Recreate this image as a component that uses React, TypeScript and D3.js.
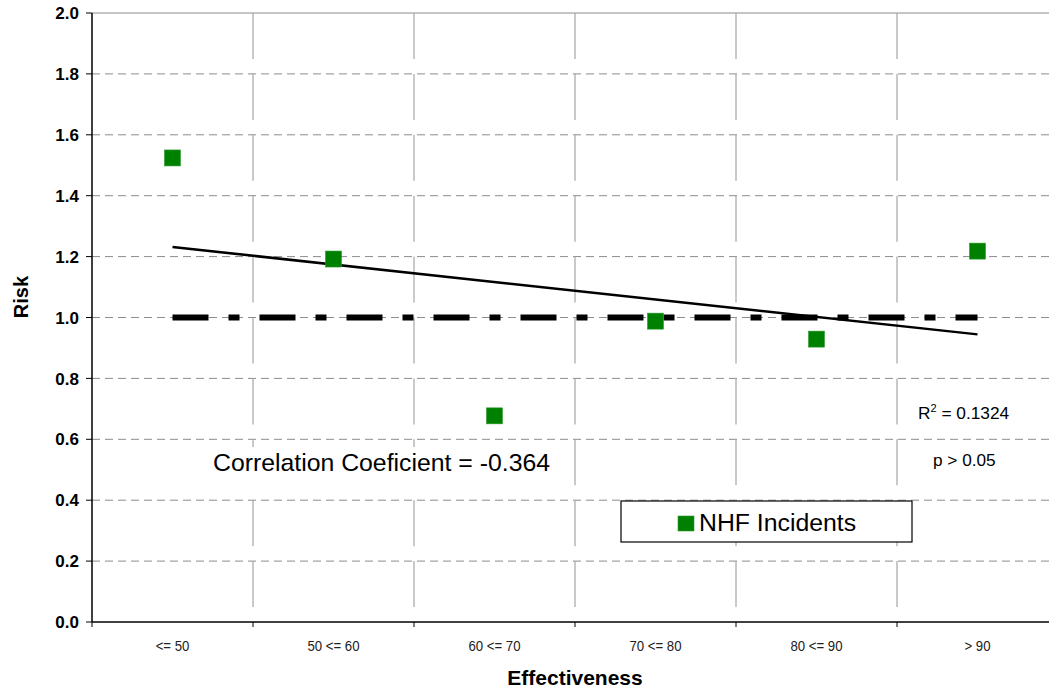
import React from "react";
import * as d3 from "d3";

const categories = ["<= 50", "50 <= 60", "60 <= 70", "70 <= 80", "80 <= 90", "> 90"];
const riskValues = [1.524, 1.192, 0.677, 0.988, 0.929, 1.218];
const yTicks = [0, 0.2, 0.4, 0.6, 0.8, 1.0, 1.2, 1.4, 1.6, 1.8, 2.0];
const referenceLevel = 1.0;
const seriesName = "NHF Incidents";
const correlationText = "Correlation Coeficient = -0.364";
const r2Value = "0.1324";
const pText = "p > 0.05";

const W = 1049;
const H = 689;
const M = { left: 92, right: 1058, top: 13, bottom: 622 };

export default function App() {
  const x = d3.scaleBand<string>().domain(categories).range([M.left, M.right]).paddingInner(0).paddingOuter(0);
  const y = d3.scaleLinear().domain([0, 2]).range([M.bottom, M.top]);
  const cx = (c: string) => (x(c) as number) + x.bandwidth() / 2;

  // linear regression on category index
  const idx = categories.map((_, i) => i + 1);
  const mx = d3.mean(idx) as number;
  const my = d3.mean(riskValues) as number;
  const sxy = d3.sum(idx.map((v, i) => (v - mx) * (riskValues[i] - my)));
  const sxx = d3.sum(idx.map((v) => (v - mx) ** 2));
  const slope = sxy / sxx;
  const icpt = my - slope * mx;
  const trend = d3.line<number>()
    .x((_, i) => cx(categories[i === 0 ? 0 : categories.length - 1]))
    .y((v) => y(v));
  const trendPts = [icpt + slope * 1, icpt + slope * categories.length];

  const first = cx(categories[0]);
  const last = cx(categories[categories.length - 1]);
  const boundaries = categories.map((c) => x(c) as number).concat([M.right]);
  const sq = 16;

  return (
    <svg width={W} height={H} style={{ position: "absolute", left: 0, top: 0, background: "#fff" }}
      fontFamily="'Liberation Sans', Arial, sans-serif">
      <rect x={0} y={0} width={W} height={H} fill="#fff" />
      {/* horizontal gridlines */}
      {yTicks.filter((t) => t > 0).map((t) => (
        <line key={"h" + t} x1={M.left} x2={M.right} y1={y(t)} y2={y(t)}
          stroke="#8c8c8c" strokeWidth={1}
          strokeDasharray={t === 2 ? undefined : "8 5"} />
      ))}
      {/* vertical gridlines */}
      {boundaries.slice(1).map((b, i) => (
        <line key={"v" + i} x1={b} x2={b} y1={M.top} y2={M.bottom}
          stroke="#a6a6a6" strokeWidth={1.2} strokeDasharray="46 14.9" />
      ))}
      {/* axes */}
      <line x1={M.left} x2={M.left} y1={M.top} y2={M.bottom} stroke="#000" strokeWidth={1.5} />
      <line x1={M.left} x2={M.right} y1={M.bottom} y2={M.bottom} stroke="#000" strokeWidth={1.5} />
      {yTicks.map((t) => (
        <g key={"yt" + t}>
          <line x1={M.left - 6} x2={M.left} y1={y(t)} y2={y(t)} stroke="#000" strokeWidth={1} />
          <text x={79} y={y(t)} dy="0.36em" textAnchor="end" fontWeight="bold" fontSize={17}>
            {t.toFixed(1)}
          </text>
        </g>
      ))}
      {boundaries.map((b, i) => (
        <line key={"xt" + i} x1={b} x2={b} y1={M.bottom} y2={M.bottom + 5} stroke="#000" strokeWidth={1} />
      ))}
      {categories.map((c) => (
        <text key={"xl" + c} transform={`translate(${cx(c)},651) scale(0.88,1)`} textAnchor="middle" fontSize={15}
          fill="#222">
          {c}
        </text>
      ))}
      {/* reference line */}
      <line x1={first} x2={last} y1={y(referenceLevel)} y2={y(referenceLevel)} stroke="#000"
        strokeWidth={6} strokeDasharray="36 20 11 20" />
      {/* trend line */}
      <path d={trend(trendPts) as string} fill="none" stroke="#000" strokeWidth={2.5} />
      {/* points */}
      {categories.map((c, i) => (
        <rect key={"p" + c} x={cx(c) - sq / 2} y={y(riskValues[i]) - sq / 2} width={sq} height={sq}
          fill="#008000" stroke="#2e9a2e" strokeWidth={0.6} />
      ))}
      {/* annotations */}
      <rect x={205} y={447} width={355} height={40} fill="#fff" />
      <text x={213} y={471} fontSize={24.8}>{correlationText}</text>
      <text x={918} y={419} fontSize={17.3}>
        R<tspan dy={-7} fontSize={11}>2</tspan><tspan dy={7}> = {r2Value}</tspan>
      </text>
      <text x={933} y={466} fontSize={17.2}>{pText}</text>
      {/* legend */}
      <rect x={621} y={501} width={291} height={41} fill="#fff" stroke="#000" strokeWidth={1.2} />
      <rect x={678} y={516} width={16} height={15} fill="#008000" stroke="#2e9a2e" strokeWidth={0.6} />
      <text x={699} y={531} fontSize={24.8}>{seriesName}</text>
      {/* axis titles */}
      <text transform="translate(28,297) rotate(-90)" textAnchor="middle" fontWeight="bold" fontSize={20}>Risk</text>
      <text x={575} y={685} textAnchor="middle" fontWeight="bold" fontSize={21}>Effectiveness</text>
    </svg>
  );
}
